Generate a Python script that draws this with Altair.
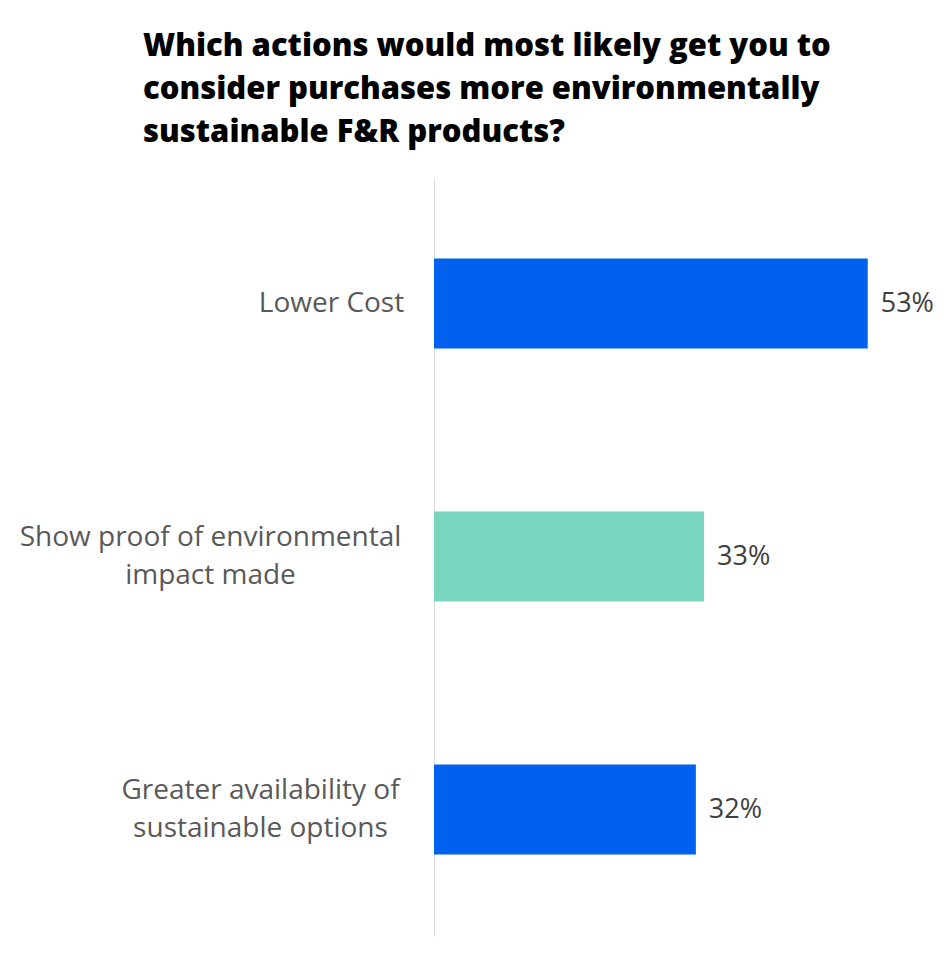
import altair as alt
import pandas as pd

categories = [
    "Lower Cost",
    "Show proof of environmental|impact made",
    "Greater availability of|sustainable options",
]
values = [53, 33, 32]
bar_colors = ["#0061EE", "#7AD6BF", "#0061EE"]
title_lines = [
    "Which actions would most likely get you to",
    "consider purchases more environmentally",
    "sustainable F&R products?",
]

df = pd.DataFrame({"action": categories, "pct": values})

pad_cond = {
    "condition": [
        {"test": "datum.value == 'Lower Cost'", "value": 103},
        {"test": "indexof(datum.value, 'Show') == 0", "value": 224},
    ],
    "value": 174,
}
offset_cond = {
    "condition": [{"test": "datum.value == 'Lower Cost'", "value": 0}],
    "value": -19,
}

y_enc = alt.Y(
    "action:N",
    sort=categories,
    title=None,
    scale=alt.Scale(paddingInner=0.644, paddingOuter=0.322),
    axis=alt.Axis(
        ticks=False,
        domainColor="#dcdcdc",
        domainWidth=1,
        labelAlign="center",
        labelPadding=pad_cond,
        labelOffset=offset_cond,
        labelExpr="split(datum.label, '|')",
        labelFont="Open Sans",
        labelFontSize=28,
        labelColor="#595959",
        labelLineHeight=38,
        labelLimit=0,
    ),
)
x_enc = alt.X("pct:Q", scale=alt.Scale(domain=[0, 60]), axis=None)

base = alt.Chart(df)

bars = base.mark_bar().encode(
    x=x_enc,
    y=y_enc,
    color=alt.Color(
        "action:N",
        scale=alt.Scale(domain=categories, range=bar_colors),
        legend=None,
    ),
)

labels = (
    base.transform_calculate(lbl="datum.pct + '%'")
    .mark_text(align="left", baseline="middle", dx=13, fontSize=27, font="Open Sans", color="#404040")
    .encode(x=x_enc, y=alt.Y("action:N", sort=categories), text="lbl:N")
)

chart = (
    alt.layer(bars, labels)
    .properties(
        width=491,
        height=759,
        background="white",
        title=alt.TitleParams(
            text=title_lines,
            font="Open Sans",
            fontSize=31,
            fontWeight=800,
            color="#000000",
            anchor="start",
            frame="group",
            dx=-291,
            dy=31,
            lineHeight=43,
            baseline="bottom",
            offset=28,
        ),
        autosize=alt.AutoSizeParams(type="none"),
        padding={"left": 434, "top": 177, "right": 25, "bottom": 24},
    )
    .configure_view(stroke=None)
)

chart.save("out.html", embed_options={"renderer": "svg", "actions": False})
